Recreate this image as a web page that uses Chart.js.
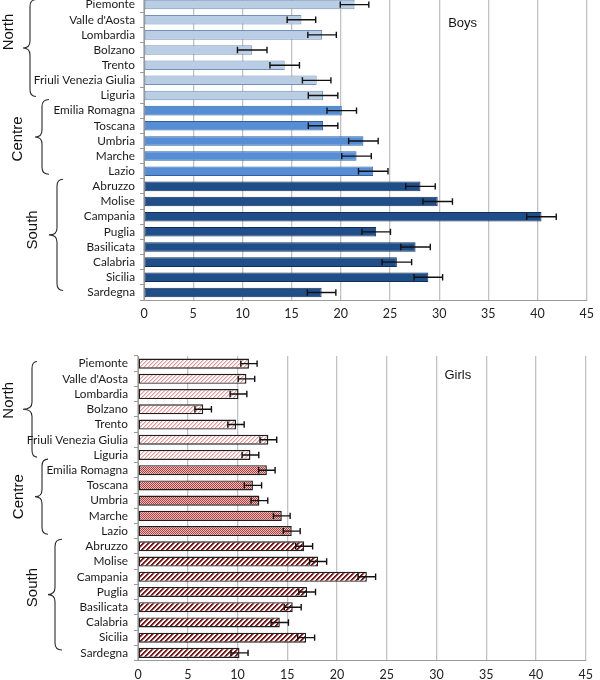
<!DOCTYPE html>
<html>
<head>
<meta charset="utf-8">
<script src="https://cdn.jsdelivr.net/npm/chart.js@4"></script>
<style>
  html, body { margin: 0; padding: 0; background: #ffffff; }
  body { width: 600px; height: 680px; position: relative; overflow: hidden; }
  #boys { position: absolute; left: 0; top: -3px; }
  #girls { position: absolute; left: 0; top: 330px; }
</style>
</head>
<body>
<canvas id="boys" width="600" height="328"></canvas>
<canvas id="girls" width="600" height="350"></canvas>
<script>
// ---------------- DATA ----------------
const regions = ['Piemonte', "Valle d'Aosta", 'Lombardia', 'Bolzano', 'Trento', 'Friuli Venezia Giulia', 'Liguria',
  'Emilia Romagna', 'Toscana', 'Umbria', 'Marche', 'Lazio',
  'Abruzzo', 'Molise', 'Campania', 'Puglia', 'Basilicata', 'Calabria', 'Sicilia', 'Sardegna'];
const regionGroups = ['North', 'North', 'North', 'North', 'North', 'North', 'North',
  'Centre', 'Centre', 'Centre', 'Centre', 'Centre',
  'South', 'South', 'South', 'South', 'South', 'South', 'South', 'South'];
const groupNames = ['North', 'Centre', 'South'];

const boysValues = [21.4, 16.0, 18.1, 11.0, 14.3, 17.55, 18.2,
  20.1, 18.2, 22.3, 21.6, 23.3,
  28.1, 29.85, 40.4, 23.6, 27.6, 25.7, 28.9, 18.05];
const boysErrors = [1.45, 1.45, 1.45, 1.5, 1.5, 1.45, 1.5,
  1.5, 1.5, 1.5, 1.5, 1.5,
  1.5, 1.5, 1.5, 1.45, 1.5, 1.5, 1.45, 1.45];

const girlsValues = [11.15, 10.9, 10.1, 6.55, 9.85, 13.1, 11.3,
  12.95, 11.55, 12.2, 14.45, 15.45,
  16.7, 18.1, 23.0, 17.0, 15.55, 14.25, 16.9, 10.2];
const girlsErrors = [0.82, 0.83, 0.84, 0.83, 0.82, 0.84, 0.84,
  0.83, 0.87, 0.84, 0.84, 0.85,
  0.85, 0.86, 0.88, 0.84, 0.85, 0.87, 0.85, 0.86];

const xMin = 0, xMax = 45, xStep = 5;

// ---------------- STYLE ----------------
const labelFont = 'Lato';
const annoFont = '"Liberation Sans", Arial, sans-serif';

function makePattern(ctx, period, colorFn) {
  const c = document.createElement('canvas');
  c.width = period; c.height = period;
  const g = c.getContext('2d');
  g.fillStyle = '#ffffff'; g.fillRect(0, 0, period, period);
  for (let x = 0; x < period; x++) {
    for (let y = 0; y < period; y++) {
      const col = colorFn((x + y) % period);
      if (col) { g.fillStyle = col; g.fillRect(x, y, 1, 1); }
    }
  }
  return ctx.createPattern(c, 'repeat');
}

const errorBarPlugin = {
  id: 'errorBars',
  afterDatasetsDraw(chart, args, opts) {
    const ctx = chart.ctx;
    const xs = chart.scales.x;
    const meta = chart.getDatasetMeta(0);
    const vals = chart.data.datasets[0].data;
    const errs = opts.errors;
    ctx.save();
    ctx.strokeStyle = '#111';
    ctx.lineWidth = 1.4;
    meta.data.forEach((bar, i) => {
      const y = bar.y;
      const x1 = xs.getPixelForValue(vals[i] - errs[i]);
      const x2 = xs.getPixelForValue(vals[i] + errs[i]);
      ctx.beginPath();
      ctx.moveTo(x1, y); ctx.lineTo(x2, y);
      ctx.moveTo(x1, y - 3.2); ctx.lineTo(x1, y + 3.2);
      ctx.moveTo(x2, y - 3.2); ctx.lineTo(x2, y + 3.2);
      ctx.stroke();
    });
    ctx.restore();
  }
};

const annotationPlugin = {
  id: 'groupAnno',
  afterDraw(chart, args, opts) {
    const ctx = chart.ctx;
    const ys = chart.scales.y;
    const xs = chart.scales.x;
    const half = (ys.getPixelForValue(1) - ys.getPixelForValue(0)) / 2;
    ctx.save();
    groupNames.forEach((gname, gi) => {
      const first = regionGroups.indexOf(gname);
      const last = regionGroups.lastIndexOf(gname);
      const st = opts.groups[gi];
      const top = ys.getPixelForValue(first) - half + st.dTop;
      const bot = ys.getPixelForValue(last) + half + st.dBot;
      const mid = (top + bot) / 2;
      const r = 7;
      ctx.strokeStyle = '#2a2a2a';
      ctx.lineWidth = 1.1;
      ctx.beginPath();
      ctx.moveTo(st.endX, top);
      ctx.quadraticCurveTo(st.x, top, st.x, top + r);
      ctx.lineTo(st.x, mid - r);
      ctx.quadraticCurveTo(st.x, mid, st.tipX, mid);
      ctx.quadraticCurveTo(st.x, mid, st.x, mid + r);
      ctx.lineTo(st.x, bot - r);
      ctx.quadraticCurveTo(st.x, bot, st.endX, bot);
      ctx.stroke();
      ctx.save();
      ctx.translate(st.textX, mid + st.textDy);
      ctx.rotate(-Math.PI / 2);
      ctx.fillStyle = '#111';
      ctx.font = '15px ' + annoFont;
      ctx.textAlign = 'center';
      ctx.textBaseline = 'middle';
      ctx.fillText(gname, 0, 0);
      ctx.restore();
    });
    ctx.fillStyle = '#111';
    ctx.font = '13px ' + annoFont;
    ctx.textAlign = 'left';
    ctx.textBaseline = 'middle';
    ctx.fillText(opts.title, xs.getPixelForValue(30) + opts.titleDx, ys.getPixelForValue(0) + opts.titleDy);
    ctx.restore();
  }
};

function buildChart(canvasId, values, errors, fills, borders, borderWidth, cfg) {
  const canvas = document.getElementById(canvasId);
  return new Chart(canvas, {
    type: 'bar',
    data: {
      labels: regions,
      datasets: [{
        data: values,
        backgroundColor: fills,
        borderColor: borders,
        borderWidth: borderWidth,
        borderSkipped: false,
        barPercentage: cfg.barPct,
        categoryPercentage: 1.0
      }]
    },
    options: {
      indexAxis: 'y',
      responsive: false,
      maintainAspectRatio: false,
      animation: false,
      devicePixelRatio: 1,
      layout: { padding: { left: 0, right: cfg.padRight, top: cfg.padTop, bottom: 0 } },
      plugins: {
        legend: { display: false },
        tooltip: { enabled: false },
        errorBars: { errors: errors },
        groupAnno: cfg.anno
      },
      scales: {
        x: {
          min: xMin, max: xMax,
          ticks: { stepSize: xStep, color: '#222', font: { family: labelFont, size: 12.5 }, padding: cfg.xTickPad, maxRotation: 0 },
          grid: { color: '#c2c2c2', lineWidth: 1.3, drawTicks: false },
          border: { display: true, color: '#9a9a9a', width: 1 },
          afterFit: (s) => { s.height = cfg.xAxisH; }
        },
        y: {
          ticks: { color: '#1a1a1a', font: { family: labelFont, size: 11.8 }, padding: cfg.yTickPad, autoSkip: false },
          grid: { offset: true, drawOnChartArea: false, drawTicks: true, tickLength: 4, color: '#9a9a9a' },
          border: { display: true, color: '#9a9a9a', width: 1 },
          afterFit: (s) => { s.width = cfg.yAxisW; s.paddingTop = 0; s.paddingBottom = 0; }
        }
      }
    },
    plugins: [errorBarPlugin, annotationPlugin]
  });
}

// Boys
const boysFillMap = { North: '#b9cde5', Centre: '#558ed5', South: '#1f4e89' };
const boysBorderMap = { North: '#7390b6', Centre: '#33609a', South: '#142f55' };
buildChart('boys', boysValues, boysErrors,
  regionGroups.map(g => boysFillMap[g]),
  regionGroups.map(g => boysBorderMap[g]), 1,
  {
    barPct: 0.63, padRight: 10, padTop: 0, xAxisH: 25, xTickPad: 6, yTickPad: 5, yAxisW: 144,
    anno: {
      title: 'Boys', titleDx: 9, titleDy: 19,
      groups: [
        { x: 30, tipX: 23, endX: 36, dTop: 2.5, dBot: -6.5, textX: 9, textDy: -16 },
        { x: 42, tipX: 35, endX: 49, dTop: -3.5, dBot: -4.5, textX: 18, textDy: 2 },
        { x: 57, tipX: 49, endX: 63, dTop: 0.5, dBot: -9.5, textX: 33, textDy: -5 }
      ]
    }
  });

// Girls
const gctx = document.getElementById('girls').getContext('2d');
const girlsFillMap = {
  North: makePattern(gctx, 4, k => k === 0 ? '#e29a9a' : (k === 1 ? '#f3cccc' : null)),
  Centre: makePattern(gctx, 2, k => k === 0 ? '#a9403f' : '#f0bcbc'),
  South: makePattern(gctx, 5, k => k < 2 ? '#7a1a1a' : (k === 2 ? '#c28a8a' : null))
};
buildChart('girls', girlsValues, girlsErrors,
  regionGroups.map(g => girlsFillMap[g]),
  regionGroups.map(() => '#1e1e1e'), 1.4,
  {
    barPct: 0.66, padRight: 6, padTop: 26, xAxisH: 19.5, xTickPad: 7, yTickPad: 6, yAxisW: 138,
    anno: {
      title: 'Girls', titleDx: 8, titleDy: 12,
      groups: [
        { x: 32, tipX: 23, endX: 37, dTop: 5.5, dBot: -5.5, textX: 9, textDy: -9 },
        { x: 42, tipX: 35, endX: 48, dTop: -3.5, dBot: -4.5, textX: 19, textDy: 0 },
        { x: 55, tipX: 48, endX: 62, dTop: 0.5, dBot: -10.5, textX: 33, textDy: -7 }
      ]
    }
  });
</script>
</body>
</html>
